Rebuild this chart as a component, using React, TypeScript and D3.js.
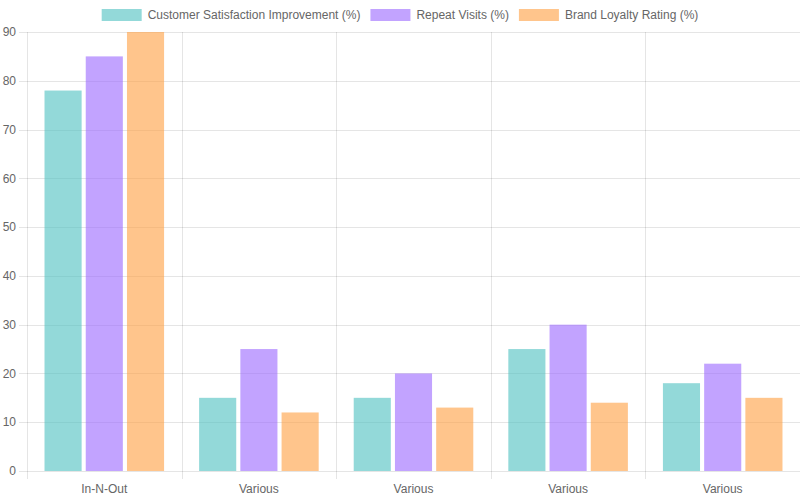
import React, { useEffect, useRef } from 'react';
import * as d3 from 'd3';

const categories = ['In-N-Out', 'Various', 'Various', 'Various', 'Various'];
const seriesNames = [
  'Customer Satisfaction Improvement (%)',
  'Repeat Visits (%)',
  'Brand Loyalty Rating (%)',
];
const satisfaction = [78, 15, 15, 25, 18];
const repeatVisits = [85, 25, 20, 30, 22];
const loyalty = [90, 12, 13, 14, 15];
const yTicks = [0, 10, 20, 30, 40, 50, 60, 70, 80, 90];

const COLORS = ['rgb(75,192,192)', 'rgb(153,102,255)', 'rgb(255,159,64)'];
const FONT = '"Liberation Sans", Arial, Helvetica, sans-serif';

const App = () => {
  const svgRef = useRef<SVGSVGElement>(null);
  const width = 800;
  const height = 500;

  useEffect(() => {
    if (!svgRef.current) return;
    const svg = d3.select(svgRef.current);
    svg.selectAll('*').remove();

    const margin = { top: 32, right: 0, bottom: 29, left: 27 };
    const values = [satisfaction, repeatVisits, loyalty];
    const idx = categories.map((_, i) => i);

    const x = d3.scaleBand<number>()
      .domain(idx)
      .range([margin.left, width - margin.right]);

    const bw = x.bandwidth();
    const inner = d3.scaleBand<number>()
      .domain([0, 1, 2])
      .range([bw * 0.1, bw * 0.9])
      .paddingInner(0.1)
      .paddingOuter(0.05);

    const y = d3.scaleLinear()
      .domain([0, 90])
      .range([height - margin.bottom, margin.top]);

    const grid = svg.append('g');
    // horizontal grid
    grid.selectAll('line.h')
      .data(yTicks)
      .join('line')
      .attr('x1', margin.left - 8)
      .attr('x2', width - margin.right)
      .attr('y1', d => Math.round(y(d)) + 0.5)
      .attr('y2', d => Math.round(y(d)) + 0.5)
      .attr('stroke', 'rgba(0,0,0,0.1)');

    // vertical grid (category boundaries)
    const bounds = idx.map(i => x(i) as number).concat([width - margin.right]);
    grid.selectAll('line.v')
      .data(bounds)
      .join('line')
      .attr('x1', d => Math.round(d) + 0.5)
      .attr('x2', d => Math.round(d) + 0.5)
      .attr('y1', margin.top)
      .attr('y2', height - margin.bottom + 8)
      .attr('stroke', 'rgba(0,0,0,0.1)');

    // bars
    values.forEach((vals, s) => {
      svg.append('g')
        .selectAll('rect')
        .data(vals)
        .join('rect')
        .attr('x', (_, i) => (x(i) as number) + (inner(s) as number))
        .attr('width', inner.bandwidth())
        .attr('y', d => y(d))
        .attr('height', d => y(0) - y(d))
        .attr('fill', COLORS[s])
        .attr('fill-opacity', 0.6);
    });

    // y labels
    svg.append('g')
      .selectAll('text')
      .data(yTicks)
      .join('text')
      .attr('x', margin.left - 11)
      .attr('y', d => y(d))
      .attr('dy', '0.35em')
      .attr('text-anchor', 'end')
      .attr('font-family', FONT)
      .attr('font-size', 12)
      .attr('fill', '#666')
      .text(d => d);

    // x labels
    svg.append('g')
      .selectAll('text')
      .data(categories)
      .join('text')
      .attr('x', (_, i) => (x(i) as number) + bw / 2)
      .attr('y', height - margin.bottom + 22)
      .attr('text-anchor', 'middle')
      .attr('font-family', FONT)
      .attr('font-size', 12)
      .attr('fill', '#666')
      .text(d => d);

    // legend
    const legend = svg.append('g');
    const items = seriesNames.map((name, s) => {
      const g = legend.append('g');
      g.append('rect')
        .attr('x', 0)
        .attr('y', 9)
        .attr('width', 40)
        .attr('height', 12)
        .attr('fill', COLORS[s])
        .attr('fill-opacity', 0.6);
      const t = g.append('text')
        .attr('x', 46)
        .attr('y', 15)
        .attr('dy', '0.35em')
        .attr('font-family', FONT)
        .attr('font-size', 12)
        .attr('fill', '#666')
        .text(name);
      const w = 46 + (t.node() as SVGTextElement).getComputedTextLength();
      return { g, w };
    });
    const gap = 10;
    const total = d3.sum(items, d => d.w) + gap * (items.length - 1);
    let cx = (width - total) / 2;
    items.forEach(it => {
      it.g.attr('transform', `translate(${cx},0)`);
      cx += it.w + gap;
    });
  }, []);

  return (
    <svg
      ref={svgRef}
      width={width}
      height={height}
      style={{ position: 'absolute', left: 0, top: 0, background: '#fff' }}
    />
  );
};

export default App;
